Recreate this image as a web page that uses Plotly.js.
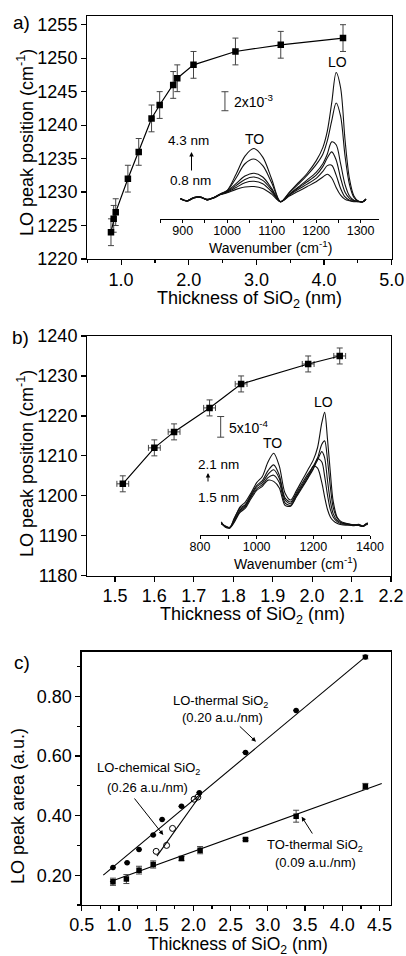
<!DOCTYPE html>
<html>
<head>
<meta charset="utf-8">
<script src="https://cdn.plot.ly/plotly-3.0.1.min.js"></script>
<style>html,body{margin:0;padding:0;background:#fff;}#chart{width:406px;height:956px;}</style>
</head>
<body>
<div id="chart"></div>
<script>
// ---------- Panel a: LO peak position vs thickness (thermal SiO2) ----------
const thickA = [0.85, 0.89, 0.92, 1.10, 1.26, 1.45, 1.57, 1.77, 1.83, 2.07, 2.69, 3.36, 4.28];
const loPosA = [1224, 1226, 1227, 1232, 1236, 1241, 1243, 1246, 1247, 1249, 1251, 1252, 1253];
const loPosErrA = [2, 2, 2, 2, 2, 2, 2, 2, 2, 2, 2, 2, 2];

// inset a spectra (absorbance, units of 1e-3), 4.3 nm ... 0.8 nm
const wnA = [895, 910, 925, 940, 955, 970, 985, 1000, 1020, 1040, 1060, 1080, 1100, 1120, 1140, 1160, 1180, 1200, 1215, 1225, 1235, 1245, 1255, 1265, 1275, 1285, 1295, 1305, 1312];
const specA1 = [0.35,0.05,0.45,0.5,0.2,0.45,0.85, 1.2,2.9,4.8,5.6,4.7,2.4,0.0, 1.0,2.0,3.0,4.3,5.7,7.4,10.4,13.6,12.0,6.5,2.4,0.6,0.05,0.0,0.3];
const specA2 = [0.3,0.1,0.4,0.5,0.25,0.4,0.8, 1.15,2.5,4.0,4.5,3.8,2.0,0.0, 0.95,1.85,2.8,3.9,5.0,6.4,8.5,10.4,9.0,4.8,1.8,0.45,0.05,0.0,0.3];
const specA3 = [0.35,0.1,0.45,0.45,0.2,0.45,0.8, 1.1,1.9,2.7,3.0,2.6,1.4,0.0, 0.8,1.55,2.3,3.1,4.0,5.0,6.3,6.0,4.0,1.8,0.6,0.15,0.05,0.0,0.25];
const specA4 = [0.3,0.05,0.4,0.5,0.2,0.45,0.75, 1.05,1.7,2.35,2.6,2.25,1.25,0.0, 0.75,1.45,2.1,2.8,3.7,4.6,5.25,4.4,2.5,1.0,0.35,0.1,0.05,0.0,0.25];
const specA5 = [0.35,0.1,0.4,0.45,0.2,0.4,0.75, 1.0,1.5,2.0,2.15,1.9,1.05,0.0, 0.7,1.3,1.85,2.45,3.2,3.8,3.85,2.8,1.4,0.5,0.15,0.05,0.0,0.0,0.25];
const specA6 = [0.3,0.1,0.45,0.5,0.25,0.45,0.75, 0.95,1.3,1.55,1.6,1.4,0.8,0.0, 0.6,1.1,1.6,2.1,2.6,2.9,2.5,1.5,0.7,0.25,0.1,0.0,0.0,0.0,0.25];
const scaleA = {wn: [995], val: [10.58], half: [1.0]};

// ---------- Panel b: LO peak position vs thickness (chemical SiO2) ----------
const thickB = [1.52, 1.60, 1.65, 1.74, 1.82, 1.99, 2.07];
const thickErrB = [0.015, 0.015, 0.015, 0.015, 0.015, 0.015, 0.015];
const loPosB = [1203, 1212, 1216, 1222, 1228, 1233, 1235];
const loPosErrB = [2, 2, 2, 2, 2, 2, 2];

// inset b spectra (units of 1e-4), 2.1 nm ... 1.5 nm
const wnB = [875, 890, 905, 920, 940, 960, 980, 1000, 1020, 1040, 1060, 1080, 1100, 1120, 1140, 1160, 1180, 1200, 1215, 1230, 1240, 1250, 1260, 1270, 1285, 1300, 1320, 1340, 1360, 1375, 1385, 1392];
const specB1 = [1.0,-0.3,-0.4,1.5,4.5,5.8,8.0,10.5, 12.0,15.5,17.6,14.5,8.0,6.3,8.5,11.0, 13.5,16.0,19.0,25.0,27.5,21.0,13.0,6.0, 2.0,1.0,0.6,0.3,0.2,-0.1,0.5,0.8];
const specB2 = [0.6,-0.1,-0.5,1.8,4.2,5.2,7.6,9.8, 11.0,13.4,14.8,12.3,6.8,5.8,8.0,10.3, 12.5,14.5,16.5,19.8,20.6,16.0,9.5,4.5, 1.8,0.8,0.5,0.2,0.4,0.0,0.4,0.7];
const specB3 = [0.8,-0.2,-0.3,1.2,3.8,5.0,7.3,9.5, 10.5,12.5,13.6,11.5,6.3,5.4,7.6,9.8, 12.0,14.0,16.0,18.0,16.5,11.0,6.0,3.0, 1.3,0.7,0.4,0.3,0.1,-0.1,0.3,0.6];
const specB4 = [0.5,0.0,-0.4,1.0,3.5,4.7,7.0,9.0, 10.0,11.7,12.3,10.5,5.6,5.0,7.2,9.5, 11.5,13.8,16.3,15.5,12.0,7.5,4.0,2.2, 1.0,0.5,0.4,0.2,0.3,0.0,0.4,0.5];
const specB5 = [0.7,-0.2,-0.5,0.8,3.2,4.3,6.6,8.6, 9.6,11.1,10.8,9.2,5.0,4.8,7.0,9.2, 11.5,14.5,14.0,10.5,7.0,4.0,2.2,1.3, 0.6,0.3,0.2,0.1,0.2,-0.1,0.3,0.4];
const scaleB = {wn: [873], val: [24.0], half: [2.5]};

// ---------- Panel c: peak areas ----------
const loThermX = [0.92, 1.11, 1.27, 1.46, 1.58, 1.84, 2.08, 2.70, 3.38, 4.31];
const loThermY = [0.226, 0.242, 0.286, 0.335, 0.387, 0.431, 0.477, 0.612, 0.753, 0.932];
const loThermErr = [0, 0, 0, 0, 0, 0, 0, 0, 0, 0.006];
const loChemX = [1.50, 1.64, 1.72, 2.01, 2.06];
const loChemY = [0.280, 0.300, 0.357, 0.455, 0.462];
const toThermX = [0.92, 1.10, 1.27, 1.46, 1.84, 2.09, 2.70, 3.38, 4.31];
const toThermY = [0.178, 0.187, 0.217, 0.236, 0.256, 0.284, 0.320, 0.398, 0.498];
const toThermErr = [0.012, 0.015, 0.013, 0.012, 0.007, 0.012, 0.004, 0.02, 0.01];
const fitLoThermX = [0.79, 4.33], fitLoThermY = [0.200, 0.937];
const fitLoChemX = [1.51, 2.11], fitLoChemY = [0.264, 0.474];
const fitToThermX = [0.88, 4.53], fitToThermY = [0.178, 0.508];

// ---------- build ----------
const W = 406, H = 956;
const FONT = 'Liberation Sans, Arial, Helvetica, sans-serif';
const fx = px => px / W;
const fy = py => 1 - py / H;
const ERR = {color: '#444', thickness: 1, width: 3};

const traces = [];
traces.push({x: thickA, y: loPosA, xaxis: 'x', yaxis: 'y', mode: 'lines+markers', type: 'scatter',
  line: {color: '#000', width: 1.2}, marker: {symbol: 'square', size: 6.5, color: '#000'},
  error_y: Object.assign({type: 'data', array: loPosErrA, visible: true}, ERR)});
[specA1, specA2, specA3, specA4, specA5, specA6].forEach(s => traces.push({
  x: wnA, y: s, xaxis: 'x4', yaxis: 'y4', mode: 'lines', type: 'scatter',
  line: {color: '#111', width: 1.1, shape: 'spline', smoothing: 0.9}}));
traces.push({x: scaleA.wn, y: scaleA.val, xaxis: 'x4', yaxis: 'y4', mode: 'markers', type: 'scatter',
  marker: {size: 1, color: 'rgba(0,0,0,0)'},
  error_y: {type: 'data', array: scaleA.half, visible: true, color: '#444', thickness: 1, width: 3.5}});

traces.push({x: thickB, y: loPosB, xaxis: 'x2', yaxis: 'y2', mode: 'lines+markers', type: 'scatter',
  line: {color: '#000', width: 1.2}, marker: {symbol: 'square', size: 6.5, color: '#000'},
  error_y: Object.assign({type: 'data', array: loPosErrB, visible: true}, ERR),
  error_x: Object.assign({type: 'data', array: thickErrB, visible: true}, ERR)});
[specB1, specB2, specB3, specB4, specB5].forEach(s => traces.push({
  x: wnB, y: s, xaxis: 'x5', yaxis: 'y5', mode: 'lines', type: 'scatter',
  line: {color: '#111', width: 1.1, shape: 'spline', smoothing: 0.8}}));
traces.push({x: scaleB.wn, y: scaleB.val, xaxis: 'x5', yaxis: 'y5', mode: 'markers', type: 'scatter',
  marker: {size: 1, color: 'rgba(0,0,0,0)'},
  error_y: {type: 'data', array: scaleB.half, visible: true, color: '#444', thickness: 1, width: 3.5}});

traces.push({x: fitLoThermX, y: fitLoThermY, xaxis: 'x3', yaxis: 'y3', mode: 'lines', type: 'scatter', line: {color: '#000', width: 1.1}});
traces.push({x: fitLoChemX, y: fitLoChemY, xaxis: 'x3', yaxis: 'y3', mode: 'lines', type: 'scatter', line: {color: '#000', width: 1.1}});
traces.push({x: fitToThermX, y: fitToThermY, xaxis: 'x3', yaxis: 'y3', mode: 'lines', type: 'scatter', line: {color: '#000', width: 1.1}});
traces.push({x: loThermX, y: loThermY, xaxis: 'x3', yaxis: 'y3', mode: 'markers', type: 'scatter',
  marker: {symbol: 'circle', size: 5.5, color: '#000'},
  error_y: Object.assign({type: 'data', array: loThermErr, visible: true}, ERR)});
traces.push({x: loChemX, y: loChemY, xaxis: 'x3', yaxis: 'y3', mode: 'markers', type: 'scatter',
  marker: {symbol: 'circle-open', size: 6, color: '#000', line: {width: 1}}});
traces.push({x: toThermX, y: toThermY, xaxis: 'x3', yaxis: 'y3', mode: 'markers', type: 'scatter',
  marker: {symbol: 'square', size: 5.5, color: '#000'},
  error_y: Object.assign({type: 'data', array: toThermErr, visible: true}, ERR)});

function mainAx(extra) {
  return Object.assign({showline: true, linecolor: '#000', linewidth: 1.3, mirror: true,
    ticks: 'outside', ticklen: 5, tickwidth: 1.2, tickcolor: '#000',
    showgrid: false, zeroline: false, tickfont: {family: FONT, size: 18, color: '#000'}}, extra);
}
function insetX(extra) {
  return Object.assign({showline: true, linecolor: '#000', linewidth: 1.1, mirror: false,
    ticks: 'outside', ticklen: 3, tickwidth: 1, tickcolor: '#000', ticklabelstandoff: -3,
    showgrid: false, zeroline: false, tickfont: {family: FONT, size: 12.5, color: '#000'}}, extra);
}

const layout = {
  width: W, height: H, margin: {l: 0, r: 0, t: 0, b: 0},
  paper_bgcolor: '#fff', plot_bgcolor: 'rgba(0,0,0,0)', showlegend: false, hovermode: false,
  font: {family: FONT, color: '#000'},
  xaxis: mainAx({domain: [fx(87.3), fx(391.7)], range: [0.5, 5.0], dtick: 1, tick0: 0, tickformat: '.1f', anchor: 'y',
    ticklabelstandoff: -1, minor: {dtick: 0.5, ticklen: 3, ticks: 'outside', tickcolor: '#000'}}),
  yaxis: mainAx({domain: [fy(259), fy(16)], range: [1220, 1256.3], dtick: 5, tick0: 1220, anchor: 'x'}),
  xaxis2: mainAx({domain: [fx(87.3), fx(391)], range: [1.43, 2.2], dtick: 0.1, tick0: 1.5, tickformat: '.1f', anchor: 'y2',
    ticklabelstandoff: -2}),
  yaxis2: mainAx({domain: [fy(575.7), fy(336)], range: [1180, 1240], dtick: 10, tick0: 1180, anchor: 'x2'}),
  xaxis3: mainAx({domain: [fx(81.7), fx(390.7)], range: [0.5, 4.65], dtick: 0.5, tick0: 0.5, tickformat: '.1f', anchor: 'y3',
    ticklabelstandoff: -2, minor: {dtick: 0.25, ticklen: 3, ticks: 'outside', tickcolor: '#000'}}),
  yaxis3: mainAx({domain: [fy(905), fy(651.7)], range: [0.1, 0.95], dtick: 0.2, tick0: 0, tickformat: '.2f', anchor: 'x3',
    minor: {dtick: 0.1, ticklen: 3, ticks: 'outside', tickcolor: '#000'}}),
  xaxis4: insetX({domain: [fx(160), fx(379.3)], range: [849, 1342], dtick: 100, tick0: 0, anchor: 'y4',
    minor: {dtick: 50, ticklen: 3, ticks: 'outside', tickcolor: '#000'}}),
  yaxis4: {domain: [fy(219.3), fy(60)], range: [-1.85, 14.92], visible: false, anchor: 'x4'},
  xaxis5: insetX({domain: [fx(200), fx(370)], range: [800, 1400], dtick: 200, tick0: 0, anchor: 'y5',
    minor: {dtick: 100, ticklen: 3, ticks: 'outside', tickcolor: '#000'}}),
  yaxis5: {domain: [fy(535), fy(400)], range: [-2.18, 30.5], visible: false, anchor: 'x5'},
  annotations: []
};

function T(px, py, text, size, extra) {
  layout.annotations.push(Object.assign({xref: 'paper', yref: 'paper', x: fx(px), y: fy(py), text: text,
    showarrow: false, xanchor: 'center', yanchor: 'middle', font: {family: FONT, size: size, color: '#000'}}, extra || {}));
}
function Arrow(hx, hy, ax, ay) {
  layout.annotations.push({xref: 'paper', yref: 'paper', x: fx(hx), y: fy(hy), text: '', showarrow: true,
    ax: ax, ay: ay, arrowhead: 2, arrowsize: 0.9, arrowwidth: 1, arrowcolor: '#000', standoff: 0, startstandoff: 0});
}
const SUB = 'SiO<sub>2</sub>';
// panel labels and titles
T(21, 23, 'a)', 19); T(20, 337, 'b)', 19); T(22, 662, 'c)', 19);
T(26, 143, 'LO peak position (cm<sup>-1</sup>)', 18, {textangle: -90});
T(26, 464, 'LO peak position (cm<sup>-1</sup>)', 18, {textangle: -90});
T(18, 806, 'LO peak area (a.u.)', 18, {textangle: -90});
T(249, 299, 'Thickness of ' + SUB + ' (nm)', 18);
T(252, 615, 'Thickness of ' + SUB + ' (nm)', 18);
T(238, 945, 'Thickness of ' + SUB + ' (nm)', 17.5);
// inset a
T(270, 247, 'Wavenumber (cm<sup>-1</sup>)', 14);
T(337, 62, 'LO', 14); T(254, 139, 'TO', 14);
T(188, 141, '4.3 nm', 13.5); T(190, 181, '0.8 nm', 13.5);
Arrow(191.5, 152, 0, 20);
T(232, 101, '2x10<sup>-3</sup>', 14, {xanchor: 'left'});
// inset b
T(295, 563, 'Wavenumber (cm<sup>-1</sup>)', 14);
T(323, 402, 'LO', 14); T(272, 443, 'TO', 14);
T(219, 465, '2.1 nm', 13.5); T(219, 497, '1.5 nm', 13.5);
Arrow(208, 473, 0, 10);
T(227, 427, '5x10<sup>-4</sup>', 14, {xanchor: 'left'});
// panel c
T(220, 701, 'LO-thermal ' + SUB, 13); T(222, 717, '(0.20 a.u./nm)', 13);
Arrow(256, 741.7, -17.7, -16.7);
T(148, 768, 'LO-chemical ' + SUB, 13); T(147, 787, '(0.26 a.u./nm)', 13);
Arrow(163.3, 835, -30, -38);
T(315, 845, 'TO-thermal ' + SUB, 13); T(315, 862, '(0.09 a.u./nm)', 13);
Arrow(301.7, 816.7, 11.6, 18.3);

Plotly.newPlot('chart', traces, layout, {staticPlot: true, displayModeBar: false});
</script>
</body>
</html>
